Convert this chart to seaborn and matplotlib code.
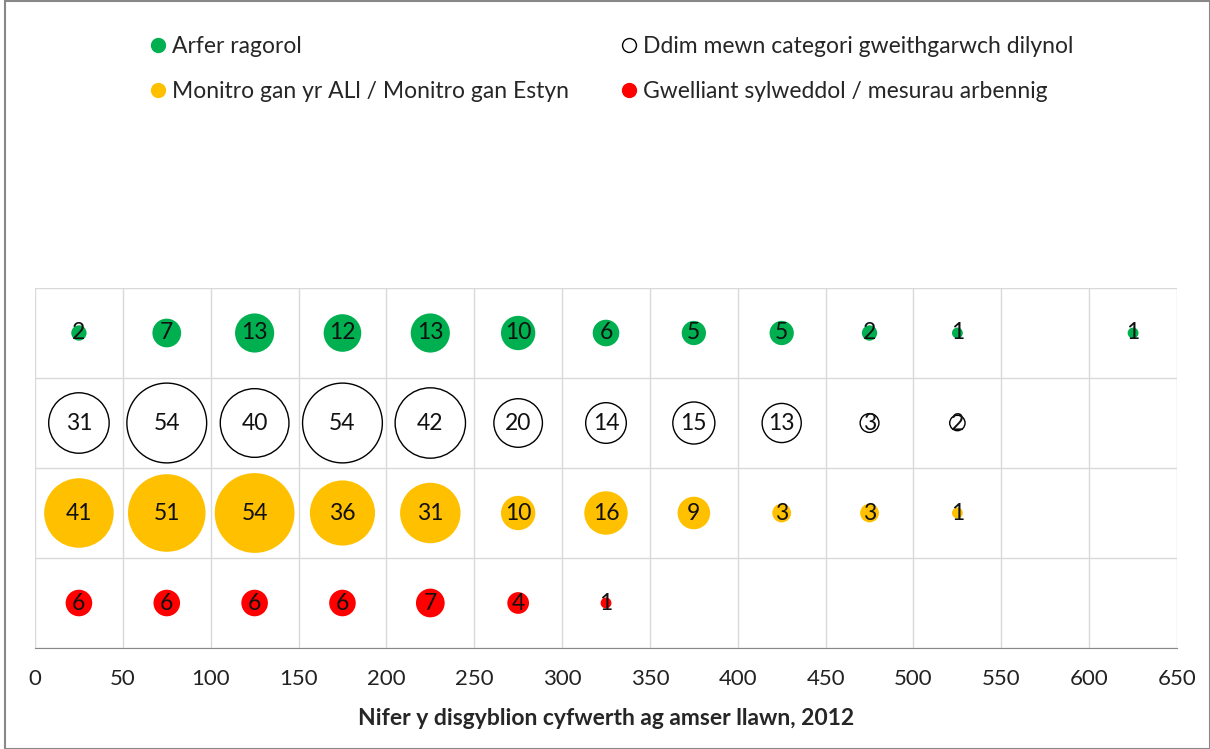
import matplotlib

matplotlib.use("Agg")

import matplotlib.pyplot as plt
import pandas as pd
import seaborn as sns
from matplotlib.lines import Line2D
from matplotlib.patches import Rectangle

# ── Data ──────────────────────────────────────────────────────────────────────
X_POS = [25, 75, 125, 175, 225, 275, 325, 375, 425, 475, 525, 575, 625]
GREEN = [2, 7, 13, 12, 13, 10, 6, 5, 5, 2, 1, 0, 1]
WHITE = [31, 54, 40, 54, 42, 20, 14, 15, 13, 3, 2, 0, 0]
YELLOW = [41, 51, 54, 36, 31, 10, 16, 9, 3, 3, 1, 0, 0]
RED = [6, 6, 6, 6, 7, 4, 1, 0, 0, 0, 0, 0, 0]

CATEGORIES = [
    "Arfer ragorol",
    "Ddim mewn categori gweithgarwch dilynol",
    "Monitro gan yr ALl / Monitro gan Estyn",
    "Gwelliant sylweddol / mesurau arbennig",
]
ROW_Y = [3.5, 2.5, 1.5, 0.5]
FACE = ["#00B050", "white", "#FFC000", "#FF0000"]
EDGE = ["none", "black", "none", "none"]
X_TICKS = list(range(0, 651, 50))
X_LABEL = "Nifer y disgyblion cyfwerth ag amser llawn, 2012"

rows = []
for cat, y, vals in zip(CATEGORIES, ROW_Y, [GREEN, WHITE, YELLOW, RED]):
    for x, v in zip(X_POS, vals):
        if v > 0:
            rows.append({"category": cat, "x": x, "y": y, "count": v})
df = pd.DataFrame(rows)

# ── Plot ──────────────────────────────────────────────────────────────────────
sns.set_style("white")
plt.rcParams["font.family"] = ["Lato", "DejaVu Sans"]

fig = plt.figure(figsize=(12.10, 7.49), dpi=100)
ax = fig.add_axes([35 / 1210, 101 / 749, 1142 / 1210, 360 / 749])

max_area = 3300  # points^2 for the largest bubble (54)
for cat, face, edge in zip(CATEGORIES, FACE, EDGE):
    sub = df[df["category"] == cat]
    sns.scatterplot(data=sub, x="x", y="y", size="count", sizes=(0, max_area),
                    size_norm=(0, 54), color=face, edgecolor=edge,
                    linewidth=1.0 if edge != "none" else 0, legend=False,
                    ax=ax, zorder=3)
    for _, r in sub.iterrows():
        ax.text(r["x"], r["y"], f"{int(r['count'])}", ha="center", va="center",
                fontsize=16.5, color="#111111", zorder=4)

ax.set_xlim(0, 650)
ax.set_ylim(0, 4)
ax.set_xticks(X_TICKS)
ax.set_yticks([0, 1, 2, 3, 4])
ax.set_yticklabels([])
ax.tick_params(axis="y", length=0)
ax.tick_params(axis="x", direction="out", length=6, color="#888888",
               labelsize=16, labelcolor="#222222", pad=9)
ax.grid(True, color="#d9d9d9", linewidth=1)
ax.set_axisbelow(True)
for side in ["left", "right", "top"]:
    ax.spines[side].set_visible(False)
ax.spines["bottom"].set_color("#888888")
ax.set_xlabel(X_LABEL, fontsize=16.5, fontweight="bold", labelpad=14)
ax.set_ylabel("")

# ── Legend ────────────────────────────────────────────────────────────────────
handles = []
for cat, face, edge in zip(CATEGORIES, FACE, EDGE):
    handles.append(Line2D([], [], marker="o", linestyle="none", markersize=10,
                          markerfacecolor=face,
                          markeredgecolor="black" if edge != "none" else face,
                          markeredgewidth=1.0, label=cat))
order = [0, 2, 1, 3]
fig.legend([handles[i] for i in order], [CATEGORIES[i] for i in order],
           loc="upper left", bbox_to_anchor=(0.105, 0.98), ncol=2,
           frameon=False, fontsize=16.5, handletextpad=0.15, handlelength=0.9,
           columnspacing=2.2, labelspacing=1.05)

fig.patches.append(Rectangle((0.004, 0.0), 0.996, 0.999, transform=fig.transFigure,
                             fill=False, edgecolor="#888888", linewidth=1.5))

fig.savefig("out.png", dpi=100)
